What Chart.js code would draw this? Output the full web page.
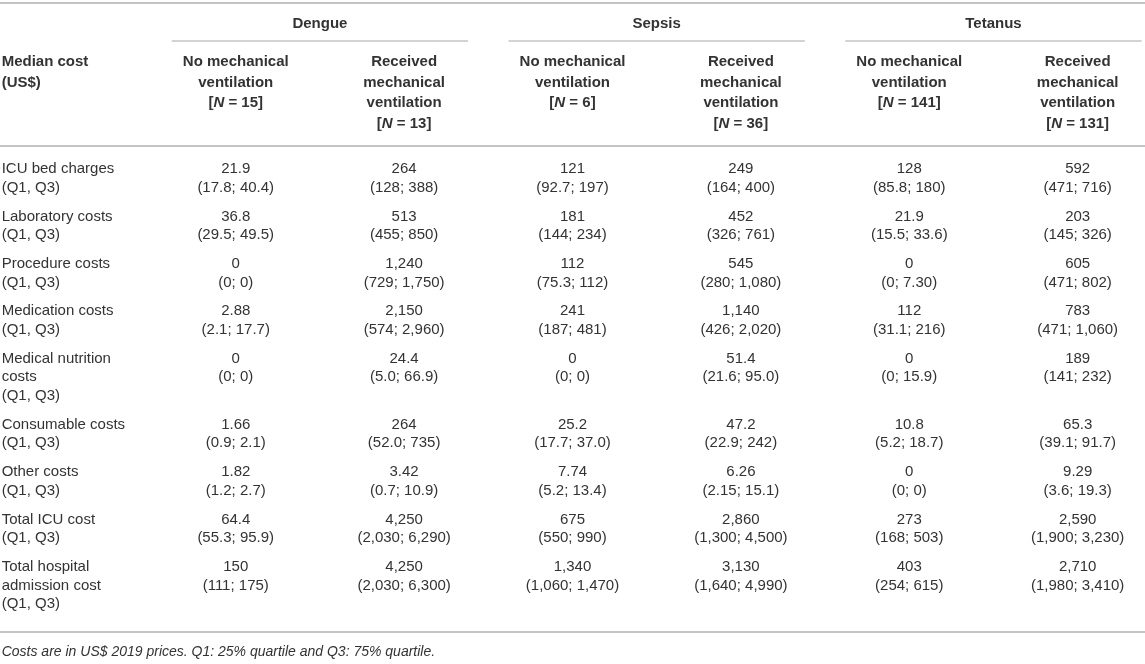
<!DOCTYPE html>
<html>
<head>
<meta charset="utf-8">
<script src="https://cdn.jsdelivr.net/npm/chart.js@4.4.0/dist/chart.umd.min.js"></script>
<style>
  html, body { margin: 0; padding: 0; background: #fff; }
  #wrap { width: 1145px; height: 664px; position: relative; }
</style>
</head>
<body>
<div id="wrap"><canvas id="costTable"></canvas></div>
<script>
// ---- table content ----
const groups = ['Dengue', 'Sepsis', 'Tetanus'];
const ventStatus = [['No mechanical', 'ventilation'], ['Received', 'mechanical', 'ventilation']];
const sampleN = [15, 13, 6, 36, 141, 131];
const stubHeader = ['Median cost', '(US$)'];
const rowLabels = [
    ['ICU bed charges', '(Q1, Q3)'],
    ['Laboratory costs', '(Q1, Q3)'],
    ['Procedure costs', '(Q1, Q3)'],
    ['Medication costs', '(Q1, Q3)'],
    ['Medical nutrition', 'costs', '(Q1, Q3)'],
    ['Consumable costs', '(Q1, Q3)'],
    ['Other costs', '(Q1, Q3)'],
    ['Total ICU cost', '(Q1, Q3)'],
    ['Total hospital', 'admission cost', '(Q1, Q3)']
];
const medians = [
    ['21.9', '264', '121', '249', '128', '592'],
    ['36.8', '513', '181', '452', '21.9', '203'],
    ['0', '1,240', '112', '545', '0', '605'],
    ['2.88', '2,150', '241', '1,140', '112', '783'],
    ['0', '24.4', '0', '51.4', '0', '189'],
    ['1.66', '264', '25.2', '47.2', '10.8', '65.3'],
    ['1.82', '3.42', '7.74', '6.26', '0', '9.29'],
    ['64.4', '4,250', '675', '2,860', '273', '2,590'],
    ['150', '4,250', '1,340', '3,130', '403', '2,710']
];
const quartiles = [
    ['17.8; 40.4', '128; 388', '92.7; 197', '164; 400', '85.8; 180', '471; 716'],
    ['29.5; 49.5', '455; 850', '144; 234', '326; 761', '15.5; 33.6', '145; 326'],
    ['0; 0', '729; 1,750', '75.3; 112', '280; 1,080', '0; 7.30', '471; 802'],
    ['2.1; 17.7', '574; 2,960', '187; 481', '426; 2,020', '31.1; 216', '471; 1,060'],
    ['0; 0', '5.0; 66.9', '0; 0', '21.6; 95.0', '0; 15.9', '141; 232'],
    ['0.9; 2.1', '52.0; 735', '17.7; 37.0', '22.9; 242', '5.2; 18.7', '39.1; 91.7'],
    ['1.2; 2.7', '0.7; 10.9', '5.2; 13.4', '2.15; 15.1', '0; 0', '3.6; 19.3'],
    ['55.3; 95.9', '2,030; 6,290', '550; 990', '1,300; 4,500', '168; 503', '1,900; 3,230'],
    ['111; 175', '2,030; 6,300', '1,060; 1,470', '1,640; 4,990', '254; 615', '1,980; 3,410']
];
const footnote = 'Costs are in US$ 2019 prices. Q1: 25% quartile and Q3: 75% quartile.';

// ---- layout (x in column units, y in line units) ----
var FONT = '"Liberation Sans", Arial, sans-serif';
var TEXT = '#333';
var RULE = '#c4c4c4';
var LABEL_X = -0.39;      // left edge of stub column
var HALF_SPAN = 0.38;     // group underline half-width past outer columns
var Y_TOP_RULE = 0.15, Y_GROUP = 1.2, Y_GROUP_LINE = 2.05;
var Y_HEAD = 3.1, HEAD_STEP = 1.025, Y_HEAD_RULE = 7.3;
var Y_BODY = 8.45, BODY_STEP = 0.93, BLOCK_STEP = 1.44;
var Y_BOTTOM_RULE = 31.6, Y_NOTE = 32.6;

var tablePlugin = {
    id: 'tablePlugin',
    afterDraw: function (chart) {
        var ctx = chart.ctx, sx = chart.scales.x, sy = chart.scales.y;
        var px = function (v) { return sx.getPixelForValue(v); };
        var py = function (v) { return sy.getPixelForValue(v); };

        function hline(yv, x0, x1, w) {
            ctx.save();
            ctx.strokeStyle = RULE;
            ctx.lineWidth = w;
            ctx.beginPath();
            ctx.moveTo(x0, py(yv));
            ctx.lineTo(x1, py(yv));
            ctx.stroke();
            ctx.restore();
        }
        function text(str, xv, yv, align, font) {
            ctx.font = font;
            ctx.textAlign = align;
            ctx.fillText(str, xv, py(yv));
        }

        ctx.save();
        ctx.fillStyle = TEXT;
        ctx.textBaseline = 'middle';

        // rules
        hline(Y_TOP_RULE, sx.left, sx.right, 2);
        hline(Y_HEAD_RULE, sx.left, sx.right, 2);
        hline(Y_BOTTOM_RULE, sx.left, sx.right, 2);

        // group headers with underline
        groups.forEach(function (g, i) {
            var c1 = 1 + i * 2, c2 = c1 + 1;
            text(g, px((c1 + c2) / 2), Y_GROUP, 'center', 'bold 15px ' + FONT);
            hline(Y_GROUP_LINE, px(c1 - HALF_SPAN), px(c2 + HALF_SPAN), 1.5);
        });

        // stub header
        stubHeader.forEach(function (s, k) {
            text(s, px(LABEL_X), Y_HEAD + k * HEAD_STEP, 'left', 'bold 15px ' + FONT);
        });

        // column headers: ventilation status + [N = n]
        sampleN.forEach(function (n, c) {
            var lines = ventStatus[c % 2];
            var cx = px(c + 1);
            lines.forEach(function (s, k) {
                text(s, cx, Y_HEAD + k * HEAD_STEP, 'center', 'bold 15px ' + FONT);
            });
            var yv = Y_HEAD + lines.length * HEAD_STEP;
            var parts = [['[', 'bold 15px '], ['N', 'italic bold 15px '], [' = ' + n + ']', 'bold 15px ']];
            var total = 0;
            parts.forEach(function (p) { ctx.font = p[1] + FONT; total += ctx.measureText(p[0]).width; });
            var x0 = cx - total / 2;
            parts.forEach(function (p) {
                ctx.font = p[1] + FONT;
                ctx.textAlign = 'left';
                ctx.fillText(p[0], x0, py(yv));
                x0 += ctx.measureText(p[0]).width;
            });
        });

        // body
        var line = Y_BODY;
        rowLabels.forEach(function (labels, r) {
            labels.forEach(function (s, k) {
                text(s, px(LABEL_X), line + k * BODY_STEP, 'left', '15px ' + FONT);
            });
            medians[r].forEach(function (m, c) {
                text(m, px(c + 1), line, 'center', '15px ' + FONT);
                text('(' + quartiles[r][c] + ')', px(c + 1), line + BODY_STEP, 'center', '15px ' + FONT);
            });
            line += (labels.length - 1) * BODY_STEP + BLOCK_STEP;
        });

        // footnote
        text(footnote, px(LABEL_X), Y_NOTE, 'left', 'italic 14px ' + FONT);
        ctx.restore();
    }
};

document.addEventListener('DOMContentLoaded', function () {
    var el = document.getElementById('costTable');
    new Chart(el, {
        type: 'scatter',
        data: { datasets: [{ data: [] }] },
        options: {
            responsive: true,
            maintainAspectRatio: false,
            animation: false,
            layout: { padding: 0 },
            plugins: { legend: { display: false }, tooltip: { enabled: false } },
            scales: {
                x: { type: 'linear', display: false, min: -0.4, max: 6.4 },
                y: { type: 'linear', display: false, reverse: true, min: 0, max: 33.2 }
            }
        },
        plugins: [tablePlugin]
    });
});
</script>
</body>
</html>
